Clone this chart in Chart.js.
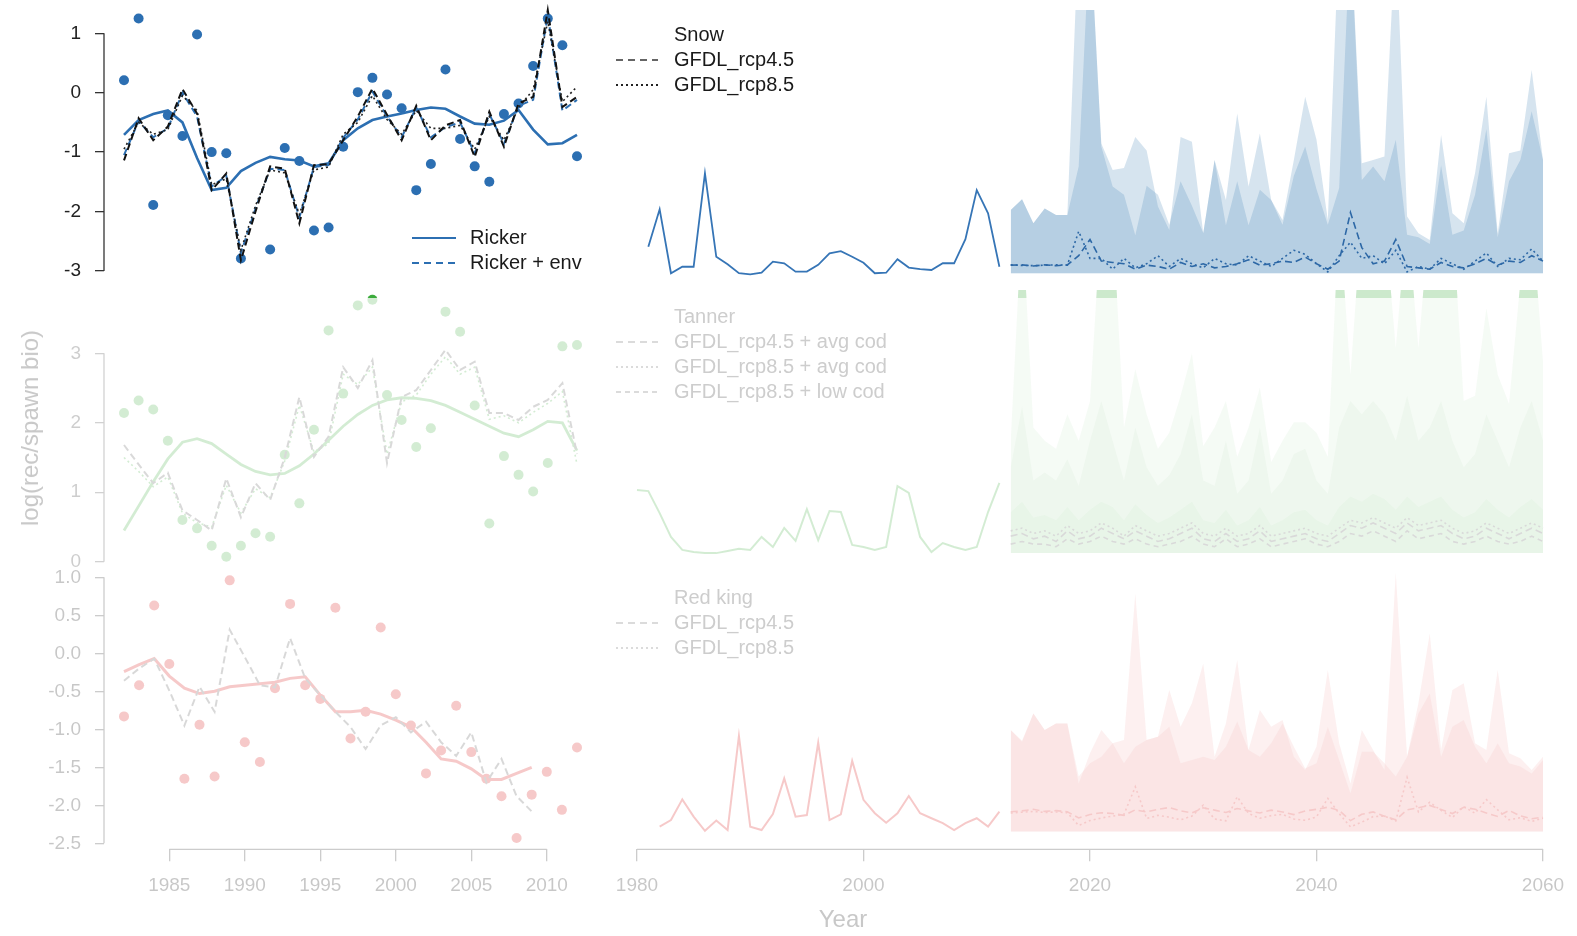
<!DOCTYPE html>
<html lang="en">
<head>
<meta charset="UTF-8">
<title>log(rec/spawn bio) - Snow, Tanner, Red king</title>
<script src="https://cdn.jsdelivr.net/npm/chart.js"></script>
<style>
  body { margin:0; background:#fff; width:1577px; height:936px; overflow:hidden; position:relative;
         font-family:"Liberation Sans", Arial, sans-serif; }
  canvas { position:absolute; left:0; top:0; }
  .fadeG { opacity:.22; }
  .fadeR { opacity:.25; }
  /* strip above the fade that the slide left uncovered */
  .strip { clip-path: inset(0 0 638px 0); }
  .lg { position:absolute; font-size:20px; white-space:nowrap; }
  .lg .row { position:relative; height:25px; line-height:25px; padding-left:58px; }
  .lg svg { position:absolute; left:0; top:11px; }
  .txt { position:absolute; font-size:24px; white-space:nowrap; color:#c8c8c8; }
</style>
</head>
<body>
<canvas id="tl" width="1577" height="936"></canvas>
<canvas id="tr" width="1577" height="936"></canvas>
<canvas id="ml" class="fadeG" width="1577" height="936"></canvas>
<canvas id="mr" class="fadeG" width="1577" height="936"></canvas>
<canvas id="mlTop" class="strip" width="1577" height="936"></canvas>
<canvas id="mrTop" class="strip" width="1577" height="936"></canvas>
<canvas id="bl" class="fadeR" width="1577" height="936"></canvas>
<canvas id="br" class="fadeR" width="1577" height="936"></canvas>

<!-- legends -->
<div class="lg" style="left:412px; top:225px; color:#1a1a1a">
  <div class="row" style="height:24.5px"><svg width="44" height="4"><line x1="0" y1="2" x2="44" y2="2" stroke="#2c6fb2" stroke-width="2"/></svg>Ricker</div>
  <div class="row" style="height:24.5px"><svg width="44" height="4"><line x1="0" y1="2" x2="44" y2="2" stroke="#2c6fb2" stroke-width="2" stroke-dasharray="7 5"/></svg>Ricker + env</div>
</div>
<div class="lg" style="left:616px; top:22px; color:#1a1a1a">
  <div class="row">Snow</div>
  <div class="row"><svg width="42" height="4"><line x1="0" y1="2" x2="42" y2="2" stroke="#333" stroke-width="1.5" stroke-dasharray="7 5"/></svg>GFDL_rcp4.5</div>
  <div class="row"><svg width="42" height="4"><line x1="0" y1="2" x2="42" y2="2" stroke="#222" stroke-width="1.8" stroke-dasharray="2 3"/></svg>GFDL_rcp8.5</div>
</div>
<div class="lg" style="left:616px; top:304px; color:#cdcdcd">
  <div class="row">Tanner</div>
  <div class="row"><svg width="42" height="4"><line x1="0" y1="2" x2="42" y2="2" stroke="#cfcfcf" stroke-width="1.5" stroke-dasharray="7 5"/></svg>GFDL_rcp4.5 + avg cod</div>
  <div class="row"><svg width="42" height="4"><line x1="0" y1="2" x2="42" y2="2" stroke="#cfcfcf" stroke-width="1.5" stroke-dasharray="2 3"/></svg>GFDL_rcp8.5 + avg cod</div>
  <div class="row"><svg width="42" height="4"><line x1="0" y1="2" x2="42" y2="2" stroke="#cfcfcf" stroke-width="1.5" stroke-dasharray="5 4"/></svg>GFDL_rcp8.5 + low cod</div>
</div>
<div class="lg" style="left:616px; top:585px; color:#cdcdcd">
  <div class="row">Red king</div>
  <div class="row"><svg width="42" height="4"><line x1="0" y1="2" x2="42" y2="2" stroke="#cfcfcf" stroke-width="1.5" stroke-dasharray="7 5"/></svg>GFDL_rcp4.5</div>
  <div class="row"><svg width="42" height="4"><line x1="0" y1="2" x2="42" y2="2" stroke="#cfcfcf" stroke-width="1.5" stroke-dasharray="2 3"/></svg>GFDL_rcp8.5</div>
</div>
<div class="txt" style="left:843px; top:905px; transform:translateX(-50%)">Year</div>
<div class="txt" style="left:30px; top:428px; transform:translate(-50%,-50%) rotate(-90deg)">log(rec/spawn bio)</div>

<script>
// ---------- data ----------
// brood years
const yrs81 = [1981,1982,1983,1984,1985,1986,1987,1988,1989,1990,1991,1992,1993,1994,1995,1996,
               1997,1998,1999,2000,2001,2002,2003,2004,2005,2006,2007,2008,2009,2010,2011,2012];
const yrs82 = [1982,1983,1984,1985,1986,1987,1988,1989,1990,1991,1992,1993,1994,1995,1996,
               1997,1998,1999,2000,2001,2002,2003,2004,2005,2006,2007,2008,2009,2010,2011,2012];
const yrs80 = [1980,1981,1982,1983,1984,1985,1986,1987,1988,1989,1990,1991,1992,1993,1994,1995,1996,
               1997,1998,1999,2000,2001,2002,2003,2004,2005,2006,2007,2008,2009,2010,2011,2012];
const projYrs = [2013,2014,2015,2016,2017,2018,2019,2020,2021,2022,2023,2024,2025,2026,2027,2028,
                 2029,2030,2031,2032,2033,2034,2035,2036,2037,2038,2039,2040,2041,2042,2043,2044,
                 2045,2046,2047,2048,2049,2050,2051,2052,2053,2054,2055,2056,2057,2058,2059,2060];

// tick labels
const snowTicks = [-3, -2, -1, 0, 1];
const tanTicks = [0, 1, 2, 3];
const rkTicks = [-2.5, -2.0, -1.5, -1.0, -0.5, 0.0, 0.5, 1.0];
const leftYearTicks = [1985, 1990, 1995, 2000, 2005, 2010];
const rightYearTicks = [1980, 2000, 2020, 2040, 2060];

// Snow crab, log(rec/spawn bio)
const snowObs = [0.21, 1.25, -1.89, -0.38, -0.73, 0.98, -1.00, -1.02, -2.79, -3.09, -2.64, -0.93, -1.15, -2.32, -2.27, -0.91,
                 0.01, 0.25, -0.03, -0.26, -1.64, -1.20, 0.39, -0.78, -1.24, -1.50, -0.36, -0.18, 0.45, 1.25, 0.80, -1.07];
const snowRicker = [-0.71, -0.46, -0.36, -0.30, -0.50, -1.10, -1.64, -1.60, -1.32, -1.18, -1.08, -1.12, -1.14, -1.24, -1.19, -0.80,
                    -0.60, -0.46, -0.40, -0.35, -0.29, -0.25, -0.27, -0.40, -0.52, -0.54, -0.47, -0.29, -0.62, -0.87, -0.85, -0.71];
const snowEnv = [-1.14, -0.43, -0.80, -0.57, 0.06, -0.35, -1.64, -1.36, -2.82, -2.00, -1.24, -1.28, -2.20, -1.22, -1.20, -0.80,
                 -0.40, 0.07, -0.37, -0.80, -0.22, -0.80, -0.55, -0.46, -1.08, -0.32, -0.91, -0.18, -0.07, 1.39, -0.24, -0.07];
const snowEnvBlue = [-1.05, -0.48, -0.75, -0.60, 0.00, -0.40, -1.58, -1.40, -2.70, -1.95, -1.28, -1.30, -2.10, -1.25, -1.22, -0.76,
                     -0.45, 0.02, -0.40, -0.75, -0.25, -0.75, -0.58, -0.50, -1.02, -0.36, -0.86, -0.22, -0.12, 1.30, -0.30, -0.12];
const snowEnvDot = [-0.95, -0.50, -0.70, -0.62, -0.05, -0.30, -1.55, -1.45, -2.65, -1.90, -1.30, -1.35, -2.05, -1.30, -1.25, -0.70,
                    -0.50, -0.05, -0.45, -0.70, -0.30, -0.60, -0.60, -0.55, -0.95, -0.40, -0.80, -0.25, 0.05, 1.20, -0.15, 0.10];

// Tanner crab
const tanObs = [2.14, 2.32, 2.19, 1.74, 0.60, 0.48, 0.23, 0.07, 0.23, 0.41, 0.36, 1.54, 0.84, 1.90, 3.33, 2.42,
                3.69, 3.77, 2.40, 2.04, 1.65, 1.92, 3.60, 3.31, 2.25, 0.55, 1.52, 1.25, 1.01, 1.42, 3.10, 3.12];
const tanRicker = [0.45, 0.80, 1.15, 1.48, 1.72, 1.77, 1.70, 1.55, 1.40, 1.30, 1.25, 1.27, 1.38, 1.55, 1.75, 1.95,
                   2.12, 2.25, 2.33, 2.36, 2.35, 2.32, 2.25, 2.15, 2.05, 1.95, 1.85, 1.80, 1.90, 2.02, 2.00, 1.60];
const tanEnv = [1.68, 1.40, 1.13, 1.28, 0.74, 0.60, 0.45, 1.20, 0.64, 1.13, 0.89, 1.50, 2.37, 1.51, 1.80, 2.80,
                2.50, 2.90, 1.42, 2.37, 2.47, 2.76, 3.05, 2.76, 2.88, 2.14, 2.14, 2.04, 2.23, 2.33, 2.57, 1.55];
const tanEnvDot = [1.50, 1.30, 1.08, 1.22, 0.70, 0.56, 0.50, 1.10, 0.70, 1.05, 0.92, 1.45, 2.25, 1.58, 1.70, 2.70,
                   2.55, 2.80, 1.55, 2.30, 2.40, 2.70, 2.95, 2.70, 2.80, 2.05, 2.10, 2.00, 2.15, 2.28, 2.45, 1.40];

// Red king crab (model lines stop in 2009)
const rkObs = [-0.83, -0.42, 0.63, -0.14, -1.65, -0.94, -1.62, 0.96, -1.17, -1.43, -0.46, 0.65, -0.42, -0.60, 0.60, -1.12,
               -0.77, 0.34, -0.54, -0.95, -1.58, -1.28, -0.69, -1.30, -1.65, -1.88, -2.43, -1.86, -1.56, -2.06, -1.24];
const rkRicker = [-0.24, -0.15, -0.07, -0.30, -0.46, -0.53, -0.50, -0.44, -0.42, -0.40, -0.38, -0.33, -0.31, -0.55, -0.77,
                  -0.77, -0.75, -0.80, -0.88, -0.97, -1.17, -1.39, -1.42, -1.52, -1.66, -1.66, -1.58, -1.50];
const rkEnv = [-0.36, -0.20, -0.07, -0.49, -0.95, -0.44, -0.77, 0.31, -0.05, -0.42, -0.45, 0.20, -0.33, -0.55, -0.77,
               -0.97, -1.26, -0.95, -0.84, -1.04, -0.90, -1.17, -1.35, -1.04, -1.70, -1.39, -1.88, -2.08];

// right column: history + projections (index units)
const snowHist = [12.3, 26.2, 2.5, 4.9, 4.9, 39.5, 8.6, 5.8, 2.5, 2.1, 2.7, 6.8, 6.2, 3.1, 3.1, 5.6,
                  9.9, 10.7, 8.6, 6.4, 2.5, 2.7, 7.7, 4.6, 4.0, 3.7, 6.2, 6.2, 15.1, 33.3, 24.7, 4.9];
const snowUpA = [25.9, 29.9, 21, 26.5, 24.1, 24.1, 130, 130, 50.6, 40.7, 41.5, 53, 48, 27.2, 18.5, 53,
                 51.2, 17.3, 44.4, 29.6, 61.7, 34.6, 54.3, 29.6, 22.2, 44.4, 67.9, 51.9, 22.2, 130, 130, 43.2,
                 44.4, 45.7, 130, 23.5, 17.3, 14.8, 53.7, 24.7, 21, 39.5, 67.9, 17.3, 46.9, 48, 77.8, 44.4];
const snowUpB = [25.9, 29.9, 21, 26.5, 24.1, 24.1, 42, 130, 49.4, 34.6, 31.6, 16.6, 34.9, 31.6, 20.5, 36.6,
                 27.5, 17.4, 44.4, 20.3, 36.6, 20.3, 33.4, 29.6, 20.5, 38.6, 49.4, 33.6, 20.5, 34.1, 130, 37,
                 42, 36.6, 51.9, 16.8, 15.8, 13.3, 42.5, 16.8, 18.3, 31.6, 55.9, 15.8, 36.6, 44.4, 62.5, 44.4];
const snow45 = [5.5, 5.6, 5.2, 5.6, 5.3, 5.6, 9, 15, 7, 6.5, 6, 4, 5.5, 5, 4, 6.5,
                5, 6, 4.5, 5, 6, 7.5, 5.5, 6, 7, 6.5, 8.5, 6, 4, 7, 25, 12,
                6, 7, 15, 5, 4.5, 4, 6.5, 5, 4.5, 6, 8, 5.5, 7, 6.5, 9, 7];
const snow85 = [5.6, 5.4, 5.3, 5.5, 5.6, 5.5, 18, 8, 8, 4, 8, 4.5, 6, 9, 5, 8,
                6, 4.5, 8, 6, 5.5, 9, 7, 5, 8, 11, 9.5, 6, 3, 9, 14, 8,
                9, 6, 11, 3, 5, 4, 8, 6, 4, 7, 10, 5, 8, 7.5, 11.5, 7];

const tanHist = [26.4, 26.0, 17.7, 8.7, 3.8, 3.0, 2.6, 2.6, 3.4, 4.2, 3.8, 8.7, 4.9, 12.1, 7.2, 19.2,
                 7.5, 18.5, 18.1, 5.7, 4.9, 3.8, 4.9, 27.9, 25.3, 8.7, 3.0, 6.4, 4.9, 3.8, 4.9, 18.1, 29.1];
const tanUpA = [45, 130, 50, 45, 42, 55, 45, 60, 130, 130, 50, 72, 55, 42, 48, 62,
                78, 43, 50, 60, 39, 50, 65, 37, 45, 52, 52, 48, 39, 130, 70, 130,
                130, 130, 80, 130, 80, 130, 130, 130, 60, 62, 95, 70, 59, 105, 130, 75];
const tanUpB = [35, 58, 30, 33, 30, 38, 28, 45, 60, 45, 30, 50, 35, 28, 32, 40,
                55, 30, 28, 45, 25, 30, 50, 25, 30, 40, 42, 30, 25, 50, 60, 55,
                60, 55, 45, 62, 45, 50, 60, 45, 35, 40, 55, 45, 35, 50, 60, 45];
const tanUpC = [18, 22, 16, 17, 15, 20, 15, 19, 22, 20, 15, 21, 17, 14, 16, 19,
                22, 15, 14, 19, 13, 15, 20, 13, 15, 18, 19, 15, 13, 20, 24, 22,
                25, 23, 19, 24, 20, 22, 24, 19, 16, 18, 23, 19, 16, 20, 23, 19];
const tan45avg = [9, 10, 8, 9, 7, 11, 8, 9, 12, 10, 8, 11, 9, 7, 8, 10,
                  12, 8, 7, 10, 7, 8, 11, 7, 8, 9, 10, 8, 7, 10, 13, 12,
                  14, 12, 10, 14, 11, 12, 13, 10, 8, 9, 12, 10, 8, 10, 12, 10];
const tan85avg = [11, 12, 10, 11, 9, 13, 10, 11, 14, 12, 9, 13, 11, 9, 10, 12,
                  14, 10, 9, 12, 9, 10, 13, 9, 10, 11, 12, 10, 9, 12, 15, 14,
                  16, 14, 12, 16, 13, 14, 15, 12, 10, 11, 14, 12, 10, 12, 14, 12];
const tan85low = [6, 7, 6, 6, 5, 8, 6, 7, 9, 7, 6, 8, 6, 5, 6, 7,
                  9, 6, 5, 8, 5, 6, 8, 5, 6, 7, 8, 6, 5, 7, 10, 9,
                  11, 9, 7, 11, 8, 9, 10, 7, 6, 7, 9, 7, 6, 7, 9, 7];

const rkHist = [3.2, 5.7, 13.6, 7.0, 1.6, 5.5, 1.9, 37.8, 3.2, 1.9, 8.0, 21.6, 7.0, 7.6, 35.2, 5.7,
                7.9, 28.3, 13.4, 8.3, 4.7, 8.3, 14.9, 8.3, 6.4, 4.5, 1.9, 4.5, 6.4, 3.2, 8.9];
const rkUpA = [40.1, 35.6, 46.4, 40.1, 42.6, 42.6, 19.7, 31.2, 40.1, 35, 36.3, 92.2, 36.3, 37.5, 55.3, 41.3,
               50.3, 65.5, 29.9, 42.6, 66.8, 32.4, 47.7, 41.3, 43.9, 29.9, 24.8, 33.7, 63, 35, 19.7, 40.1,
               32.4, 24.8, 100, 29.9, 50.3, 76.9, 32.4, 55.3, 57.9, 35, 32.4, 63, 31.2, 29.3, 24.8, 29.9];
const rkUpB = [40.1, 36, 46.4, 40.1, 42.6, 42.6, 22.3, 27.4, 29.9, 35, 27.4, 33.7, 36.3, 37.5, 41.3, 27.4,
               28.6, 29.9, 28.6, 33.7, 43.3, 32.4, 29.9, 35, 42.6, 33.7, 25.4, 27.4, 41.3, 28.6, 15.9, 31.8,
               31.8, 27.4, 22.3, 29.9, 46.4, 54, 29.9, 41.3, 43.9, 33.7, 27.4, 35, 27.4, 26.1, 23.5, 28.6];
const rk45 = [8.9, 9.2, 9.8, 9.0, 9.3, 8.9, 6.5, 7.8, 8.5, 8.2, 7.5, 9.6, 8.8, 9.8, 10.5, 9.2,
              8.4, 10.4, 9.5, 8.6, 10.1, 9.2, 8.4, 9.5, 8.8, 7.8, 9.2, 9.8, 10.6, 9.4, 5.5, 7.9,
              8.8, 7.2, 5.8, 9.6, 10.4, 11.3, 9.7, 8.2, 10.6, 9.8, 8.4, 7.1, 9.4, 7.3, 6.2, 6.8];
const rk85 = [8.4, 8.7, 9.0, 8.6, 8.8, 8.5, 3.6, 5.5, 6.5, 7.2, 7.9, 18.4, 6.3, 7.5, 6.8, 5.8,
              7.2, 11.4, 6.1, 5.4, 14.6, 8.2, 6.4, 7.4, 7.9, 6.1, 5.6, 6.9, 14, 8.2, 3.1, 4.9,
              7.0, 7.2, 5.4, 22, 8.8, 12.5, 9.4, 6.7, 10.8, 8.3, 13.5, 9.6, 5.8, 6.6, 5.2, 6.4];

// ---------- layout (page pixels) ----------
const W = 1577, H = 936;
const BLUE = '#2c6fb2', GREEN = '#3cab3c', RED = '#dc2828';
const AXIS = '#333', TXT = '#222';
const YW = 100, XH = 80;          // fixed axis box sizes
const LX0 = 124, LX1 = 577;       // first / last observation on left panels
const RX0 = 637, RX1 = 1543;      // 1980 / 2060 on right panels

Chart.defaults.font.family = '"Liberation Sans", Arial, sans-serif';

// R style axis line: only from first to last tick
const rAxis = {
  id: 'rAxis',
  afterDraw(chart, args, opts) {
    if (!opts.axes) return;
    const ctx = chart.ctx;
    ctx.save();
    ctx.strokeStyle = opts.color || AXIS;
    ctx.lineWidth = 1.3;
    opts.axes.forEach(function (id) {
      const s = chart.scales[id];
      const v = s.ticks.map(t => t.value);
      const a = s.getPixelForValue(v[0]), b = s.getPixelForValue(v[v.length - 1]);
      ctx.beginPath();
      if (s.isHorizontal()) { ctx.moveTo(a, s.top); ctx.lineTo(b, s.top); }
      else { ctx.moveTo(s.right, a); ctx.lineTo(s.right, b); }
      ctx.stroke();
    });
    ctx.restore();
  }
};
Chart.register(rAxis);

function pts(years, vals) {
  return vals.map((v, i) => ({ x: years[i], y: v }));
}

// fixed axis boxes, and no extra room reserved for edge labels
function yShown(min, max, ticks, fmt) {
  return {
    type: 'linear', position: 'left', min: min, max: max,
    afterFit: s => { s.width = YW; s.paddingTop = 0; s.paddingBottom = 0; },
    afterBuildTicks: s => { s.ticks = ticks.map(v => ({ value: v })); },
    grid: { drawOnChartArea: false, tickLength: 9, color: AXIS, lineWidth: 1.3 },
    border: { display: false },
    ticks: { color: TXT, font: { size: 19 }, padding: 14, autoSkip: false,
             callback: fmt || (v => String(v)) }
  };
}
function xShown(min, max, ticks) {
  return {
    type: 'linear', position: 'bottom', min: min, max: max,
    afterFit: s => { s.height = XH; s.paddingLeft = 0; s.paddingRight = 0; },
    afterBuildTicks: s => { s.ticks = ticks.map(v => ({ value: v })); },
    grid: { drawOnChartArea: false, tickLength: 12, color: AXIS, lineWidth: 1.3 },
    border: { display: false },
    ticks: { color: TXT, font: { size: 19 }, padding: 13, autoSkip: false, maxRotation: 0,
             callback: v => String(v) }
  };
}
function hidden(min, max) {
  return { type: 'linear', display: false, min: min, max: max };
}

function pointsSet(data, color) {
  return { data: data, showLine: false, pointRadius: 5, pointBorderWidth: 0,
           pointBackgroundColor: color, clip: false };
}
function lineSet(data, color, width, dash) {
  return { data: data, borderColor: color, borderWidth: width, borderDash: dash || [],
           pointRadius: 0, fill: false, tension: 0, clip: false };
}
function bandSet(data, color, base) {
  return { data: data, borderWidth: 0, pointRadius: 0, backgroundColor: color,
           fill: { value: base } };
}

function makeChart(id, area, scales, datasets, axes) {
  const yw = scales.y.display === false ? 0 : YW;
  const xh = scales.x.display === false ? 0 : XH;
  new Chart(document.getElementById(id), {
    type: 'line',
    data: { datasets: datasets },
    options: {
      responsive: false, animation: false, events: [],
      layout: { autoPadding: false,
                padding: { left: area.l - yw, right: W - area.r, top: area.t, bottom: H - area.b - xh } },
      scales: scales,
      plugins: { legend: { display: false }, tooltip: { enabled: false },
                 rAxis: { axes: axes, color: AXIS } }
    }
  });
}

// x range for left panels: y axis sits 20px left of the first observation
const topStep = (LX1 - LX0) / (yrs81[yrs81.length - 1] - yrs81[0]);
const botStep = (LX1 - LX0) / (yrs82[yrs82.length - 1] - yrs82[0]);
const leftX81 = [yrs81[0] - 20 / topStep, yrs81[yrs81.length - 1]];
const leftX82 = [yrs82[0] - 20 / botStep, yrs82[yrs82.length - 1]];

// ---------- top left: Snow ----------
makeChart('tl', { l: 104, r: LX1, t: 6.6, b: 270.9 },
  { x: hidden(leftX81[0], leftX81[1]), y: yShown(-3, 1.45, snowTicks) },
  [
    lineSet(pts(yrs81, snowEnv), '#111', 2, [7, 4]),
    lineSet(pts(yrs81, snowEnvDot), '#222', 1.6, [2, 3]),
    lineSet(pts(yrs81, snowEnvBlue), BLUE, 2, [7, 4]),
    lineSet(pts(yrs81, snowRicker), BLUE, 2.6),
    pointsSet(pts(yrs81, snowObs), BLUE)
  ], ['y']);

// ---------- middle left: Tanner ----------
function tannerLeft(id) {
  makeChart(id, { l: 104, r: LX1, t: 290.8, b: 561.7 },
    { x: hidden(leftX81[0], leftX81[1]), y: yShown(0, 3.9, tanTicks) },
    [
      lineSet(pts(yrs81, tanEnv), '#555', 2, [7, 4]),
      lineSet(pts(yrs81, tanEnvDot), GREEN, 1.6, [2, 3]),
      lineSet(pts(yrs81, tanRicker), GREEN, 2.8),
      pointsSet(pts(yrs81, tanObs), GREEN)
    ], ['y']);
}
tannerLeft('ml');
tannerLeft('mlTop');

// ---------- bottom left: Red king ----------
makeChart('bl', { l: 104, r: LX1, t: 577.3, b: 849.3 },
  { x: xShown(leftX82[0], leftX82[1], leftYearTicks),
    y: yShown(-2.579, 1, rkTicks, v => v.toFixed(1)) },
  [
    lineSet(pts(yrs82, rkEnv), '#666', 2, [7, 4]),
    lineSet(pts(yrs82, rkRicker), RED, 3),
    pointsSet(pts(yrs82, rkObs), RED)
  ], ['x', 'y']);

// ---------- top right: Snow projections ----------
makeChart('tr', { l: RX0, r: RX1, t: 10, b: 280 },
  { x: hidden(1980, 2060), y: hidden(0, 100) },
  [
    lineSet(pts(yrs81, snowHist), '#3675b6', 1.8),
    lineSet(pts(projYrs, snow45), '#2d68a6', 1.6, [7, 4]),
    lineSet(pts(projYrs, snow85), '#2d68a6', 1.6, [2, 3]),
    bandSet(pts(projYrs, snowUpA), 'rgba(70,130,180,0.22)', 2.5),
    bandSet(pts(projYrs, snowUpB), 'rgba(70,130,180,0.22)', 2.5)
  ], null);

// ---------- middle right: Tanner projections ----------
function tannerRight(id) {
  makeChart(id, { l: RX0, r: RX1, t: 290, b: 560 },
    { x: hidden(1980, 2060), y: hidden(0, 101.9) },
    [
      lineSet(pts(yrs80, tanHist), GREEN, 2),
      lineSet(pts(projYrs, tan45avg), '#555', 1.6, [7, 4]),
      lineSet(pts(projYrs, tan85avg), '#555', 1.6, [2, 3]),
      lineSet(pts(projYrs, tan85low), '#555', 1.6, [5, 4]),
      bandSet(pts(projYrs, tanUpA), 'rgba(60,170,60,0.22)', 2.6),
      bandSet(pts(projYrs, tanUpB), 'rgba(60,170,60,0.22)', 2.6),
      bandSet(pts(projYrs, tanUpC), 'rgba(60,170,60,0.22)', 2.6)
    ], null);
}
tannerRight('mr');
tannerRight('mrTop');

// ---------- bottom right: Red king projections ----------
makeChart('br', { l: RX0, r: RX1, t: 573, b: 849.3 },
  { x: xShown(1980, 2060, rightYearTicks), y: hidden(-5.46, 100) },
  [
    lineSet(pts(yrs82, rkHist), RED, 2),
    lineSet(pts(projYrs, rk45), RED, 1.6, [7, 4]),
    lineSet(pts(projYrs, rk85), RED, 1.6, [2, 3]),
    bandSet(pts(projYrs, rkUpA), 'rgba(220,40,40,0.28)', 1.3),
    bandSet(pts(projYrs, rkUpB), 'rgba(220,40,40,0.28)', 1.3)
  ], ['x']);
</script>
</body>
</html>
